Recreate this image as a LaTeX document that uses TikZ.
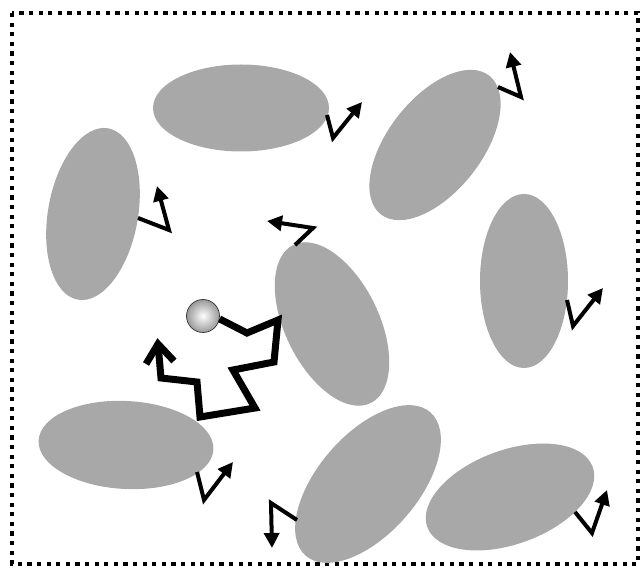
\documentclass[tikz,border=0pt]{standalone}
\usetikzlibrary{arrows.meta,shapes.geometric}

\definecolor{blobgray}{RGB}{168,168,168}

\tikzset{
  blob/.style={ellipse, fill=blobgray, draw=none, inner sep=0pt},
  kick/.style={line width=4pt, line join=miter,
    -{Triangle[length=15pt,width=15pt]}},
  walk/.style={line width=7pt, line join=miter, miter limit=20},
  frame/.style={line width=4.2pt, dash pattern=on 4.2pt off 5.4pt}
}

\begin{document}
\begin{tikzpicture}[x=1pt,y=-1pt]
  \useasboundingbox (0,0) rectangle (643,569);

  % dotted frame
  \draw[frame] (12,13) rectangle (638,564);

  % molecules
  \node[blob, minimum width=176pt, minimum height=87pt] (e1) at (241,108) {};
  \node[blob, minimum width=174pt, minimum height=90pt, rotate=80] (e2) at (93,214) {};
  \node[blob, minimum width=176pt, minimum height=94pt, rotate=52] (e3) at (435,145) {};
  \node[blob, minimum width=174pt, minimum height=88pt, rotate=90] (e4) at (524,281) {};
  \node[blob, minimum width=176pt, minimum height=94pt, rotate=-64] (e5) at (332,324) {};
  \node[blob, minimum width=175pt, minimum height=88pt, rotate=-3] (e6) at (126,445) {};
  \node[blob, minimum width=190pt, minimum height=100pt, rotate=49] (e7) at (368,484) {};
  \node[blob, minimum width=176pt, minimum height=94pt, rotate=20] (e8) at (510,497) {};

  % small kicks leaving the molecules
  \coordinate (s1) at (327,115); \coordinate (m1) at (333,138); \coordinate (t1) at (362,102);
  \coordinate (s2) at (498,87);  \coordinate (m2) at (521,97);  \coordinate (t2) at (510,52);
  \coordinate (s3) at (138,218); \coordinate (m3) at (169,230); \coordinate (t3) at (157,186);
  \coordinate (s4) at (295,245); \coordinate (m4) at (313,228); \coordinate (t4) at (267,221);
  \coordinate (s5) at (567,300); \coordinate (m5) at (573,326); \coordinate (t5) at (603,288);
  \coordinate (s6) at (197,472); \coordinate (m6) at (204,500); \coordinate (t6) at (233,462);
  \coordinate (s7) at (297,520); \coordinate (m7) at (271,503); \coordinate (t7) at (272,548);
  \coordinate (s8) at (575,512); \coordinate (m8) at (592,533); \coordinate (t8) at (607,490);

  \foreach \i in {1,...,8}
    \draw[kick] (s\i) -- (m\i) -- (t\i);

  % the tracer particle and its random walk
  \node[circle, minimum size=33pt, inner sep=0pt, inner color=white,
        outer color=gray!80, draw=black!80, line width=0.7pt] (ball) at (203,316) {};

  \coordinate (w1) at (247,333);
  \coordinate (w2) at (278,320);
  \coordinate (w3) at (274,362);
  \coordinate (w4) at (233,370);
  \coordinate (w5) at (255,408);
  \coordinate (w6) at (200,417);
  \coordinate (w7) at (197,382);
  \coordinate (w8) at (161,378);
  \coordinate (w9) at (158,344);
  % open barb at the end of the walk
  \coordinate (b1) at (146,364);
  \coordinate (b2) at (174,361);

  \draw[walk] (ball.-10) -- (w1) -- (w2) -- (w3) -- (w4) -- (w5) -- (w6) -- (w7) -- (w8) -- (w9);
  \draw[walk] (b1) -- (w9) -- (b2);
\end{tikzpicture}
\end{document}
